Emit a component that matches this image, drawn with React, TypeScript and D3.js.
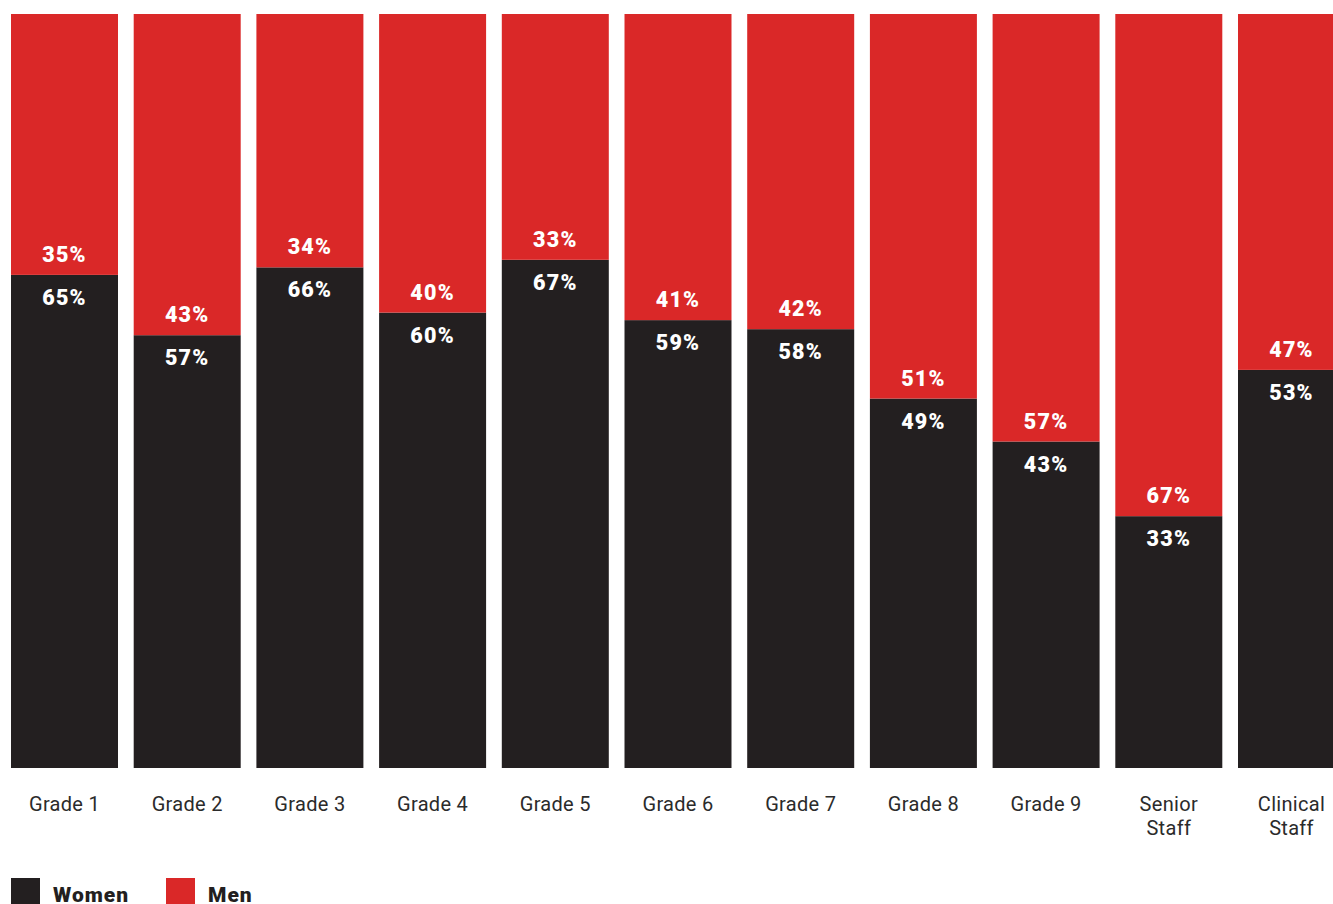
import React from "react";
import * as d3 from "d3";

const categories = [
  "Grade 1", "Grade 2", "Grade 3", "Grade 4", "Grade 5", "Grade 6",
  "Grade 7", "Grade 8", "Grade 9", "Senior Staff", "Clinical Staff",
];
const womenValues = [65.4, 57.4, 66.4, 60.4, 67.4, 59.4, 58.2, 49, 43.3, 33.4, 52.8];
const menValues = womenValues.map((w) => 100 - w);
const legendItems = ["Women", "Men"];

const COLORS = { women: "#231F20", men: "#DA2828" };

export default function App() {
  const width = 1345;
  const height = 904;
  const top = 14;
  const bottom = 768;

  const x = d3
    .scaleBand<string>()
    .domain(categories)
    .range([11, 1345])
    .paddingInner(0.128)
    .paddingOuter(0);
  const y = d3.scaleLinear().domain([0, 100]).range([bottom, top]);

  const stack = d3.stack<any>().keys(["women", "men"]);
  const rows = categories.map((c, i) => ({ cat: c, women: womenValues[i], men: menValues[i] }));
  const series = stack(rows);

  const valFont = "Roboto, 'Noto Sans', sans-serif";
  const bw = x.bandwidth();

  return (
    <svg
      width={width}
      height={height}
      style={{ position: "absolute", left: 0, top: 0, display: "block" }}
    >
      {series.map((s) => (
        <g key={s.key} fill={s.key === "women" ? COLORS.women : COLORS.men}>
          {s.map((d, i) => (
            <rect
              key={i}
              x={x(categories[i])}
              y={y(d[1])}
              width={bw}
              height={y(d[0]) - y(d[1])}
            />
          ))}
        </g>
      ))}
      {categories.map((c, i) => {
        const cx = (x(c) as number) + bw / 2;
        const boundary = y(womenValues[i]);
        return (
          <g key={c} fontFamily={valFont} fontWeight={900} fontSize={21.5} letterSpacing={1.2} fill="#fff" textAnchor="middle">
            <text x={cx} y={boundary - 13}>{Math.round(menValues[i])}%</text>
            <text x={cx} y={boundary + 30}>{Math.round(womenValues[i])}%</text>
          </g>
        );
      })}
      {categories.map((c) => {
        const cx = (x(c) as number) + bw / 2;
        const words = c.startsWith("Grade") ? [c] : c.split(" ");
        return (
          <text
            key={c}
            x={cx}
            y={811}
            textAnchor="middle"
            fontFamily="Roboto, 'Noto Sans', sans-serif"
            fontSize={20}
            letterSpacing={0.3}
            fill="#2b2b2b"
          >
            {words.map((w, j) => (
              <tspan key={j} x={cx} dy={j === 0 ? 0 : 24}>{w}</tspan>
            ))}
          </text>
        );
      })}
      {legendItems.map((l, i) => {
        const lx = 11 + i * 155;
        return (
          <g key={l}>
            <rect x={lx} y={878} width={29} height={29} fill={i === 0 ? COLORS.women : COLORS.men} />
            <text
              x={lx + 42}
              y={902}
              fontFamily={valFont}
              fontWeight={900}
              fontSize={21}
              letterSpacing={1}
              fill="#231F20"
            >
              {l}
            </text>
          </g>
        );
      })}
    </svg>
  );
}
